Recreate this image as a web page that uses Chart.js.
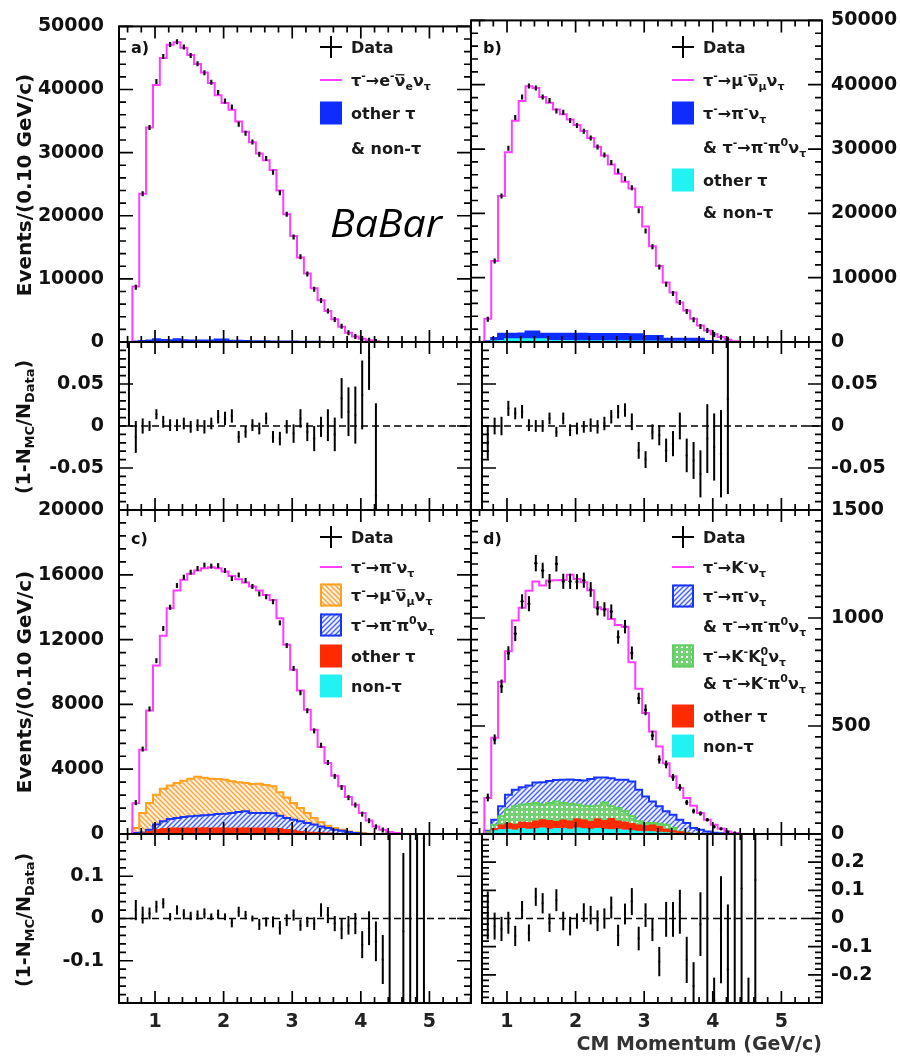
<!DOCTYPE html>
<html>
<head>
<meta charset="utf-8">
<script src="https://cdn.jsdelivr.net/npm/chart.js@4.4.1/dist/chart.umd.min.js"></script>
<style>
  body { margin: 0; background: #fff; }
  #page { position: relative; width: 900px; height: 1059px; overflow: hidden; }
  #page canvas { position: absolute; left: 0; top: 0; width: 900px; height: 1059px; }
</style>
</head>
<body>
<div id="page">
  <canvas id="mainA" width="900" height="1059"></canvas>
  <canvas id="ratioA" width="900" height="1059"></canvas>
  <canvas id="mainB" width="900" height="1059"></canvas>
  <canvas id="ratioB" width="900" height="1059"></canvas>
  <canvas id="mainC" width="900" height="1059"></canvas>
  <canvas id="ratioC" width="900" height="1059"></canvas>
  <canvas id="mainD" width="900" height="1059"></canvas>
  <canvas id="ratioD" width="900" height="1059"></canvas>
</div>
<script>
// bins of 0.1 GeV/c, bin 0 starts at 0.57
const BIN_LO = 0.57, BIN_W = 0.1;

// ---- tick labels
const xTicks = [1, 2, 3, 4, 5];
const yTicksAB = [0, 10000, 20000, 30000, 40000, 50000];
const yLabelsAB = ['0', '10000', '20000', '30000', '40000', '50000'];
const yTicksRatioAB = [-0.1, -0.05, 0, 0.05, 0.1];
const yLabelsRatioAB = ['', '-0.05', '0', '0.05', ''];
const yTicksC = [0, 4000, 8000, 12000, 16000, 20000];
const yLabelsC = ['0', '4000', '8000', '12000', '16000', '20000'];
const yTicksD = [0, 500, 1000, 1500];
const yLabelsD = ['0', '500', '1000', '1500'];
const yTicksRatioC = [-0.2, -0.1, 0, 0.1, 0.2];
const yLabelsRatioC = ['', '-0.1', '0', '0.1', ''];
const yTicksRatioD = [-0.3, -0.2, -0.1, 0, 0.1, 0.2, 0.3];
const yLabelsRatioD = ['', '-0.2', '-0.1', '0', '0.1', '0.2', ''];

// ---- a) tau -> e nu nu
const mcA = [0, 8780, 23500, 34000, 40700, 45000, 47100, 47500, 46600, 45450, 44050, 42700, 41050, 39100, 37850, 36800, 34950, 33300, 31650, 29850, 28800, 27250, 24000, 20250, 16800, 13400, 10850, 8500, 6600, 4900, 3600, 2400, 1450, 880, 520, 260, 100];
const dataA = [null, 8667, 23500, 34000, 41280, 45226, 47150, 47550, 46740, 45400, 44090, 42660, 41170, 39535, 38200, 37250, 34500, 33070, 31680, 29760, 29060, 26900, 23650, 20230, 16650, 13520, 10770, 8370, 6590, 4905, 3565, 2480, 1475, 890, 540, 283, 92];
const bkgA = [0, 80, 150, 250, 420, 300, 280, 420, 280, 250, 250, 240, 250, 400, 380, 200, 180, 150, 130, 120, 100, 90, 80, 70, 60, 50, 40, 30, 20, 15, 10, 8, 5, 3, 2, 1, 0];
const ratioA = [0.05, -0.013, 0, 0, 0.014, 0.005, 0.001, 0.001, 0.003, -0.001, 0.001, -0.001, 0.003, 0.011, 0.009, 0.012, -0.013, -0.007, 0.001, -0.003, 0.009, -0.013, -0.015, -0.001, -0.009, 0.009, -0.007, -0.015, -0.001, 0.001, -0.010, 0.033, 0.017, 0.013, 0.037, 0.081, -0.083];
const ratioErrA = [0.05, 0.019, 0.009, 0.006, 0.006, 0.007, 0.007, 0.007, 0.007, 0.007, 0.007, 0.008, 0.007, 0.008, 0.008, 0.008, 0.007, 0.007, 0.007, 0.007, 0.007, 0.007, 0.008, 0.008, 0.011, 0.011, 0.011, 0.015, 0.012, 0.019, 0.020, 0.024, 0.029, 0.034, 0.041, 0.038, 0.11];

// ---- b) tau -> mu nu nu
const mcB = [0, 3600, 12600, 22700, 29500, 34400, 37450, 39750, 39500, 38100, 37200, 36150, 35400, 34600, 33750, 32800, 31700, 30350, 29000, 27600, 26150, 24900, 23850, 21000, 17950, 14900, 11800, 9250, 7700, 6150, 4900, 3600, 2550, 1800, 1200, 770, 400, 100];
const dataB = [null, 3533, 12600, 22700, 30130, 34920, 38100, 39790, 39500, 38100, 37540, 35900, 35720, 34430, 33650, 32770, 31730, 30320, 29090, 27900, 26600, 25380, 23970, 20410, 17260, 14800, 11670, 8990, 7540, 6150, 4730, 3460, 2410, 1770, 1170, 745, 413, null];
const pionB = [0, 100, 615, 1280, 1300, 1300, 1320, 1640, 1640, 1300, 1300, 1290, 1280, 1280, 1280, 1270, 1260, 1260, 1250, 1250, 1240, 1230, 1220, 1200, 920, 920, 920, 510, 510, 510, 510, 510, 510, 150, 100, 50, 20, 0];
const otherB = [0, 30, 100, 150, 410, 410, 410, 410, 410, 410, 150, 150, 140, 140, 130, 130, 120, 120, 110, 110, 100, 100, 90, 80, 70, 60, 50, 40, 30, 25, 20, 15, 10, 5, 0, 0, 0, 0];
const ratioB = [null, -0.019, 0, 0, 0.021, 0.015, 0.017, 0.001, 0, 0, 0.009, -0.007, 0.009, -0.005, -0.003, -0.001, 0.001, -0.001, 0.003, 0.011, 0.017, 0.019, 0.005, -0.029, -0.04, -0.007, -0.011, -0.029, -0.021, 0, -0.035, -0.041, -0.057, -0.015, -0.025, -0.033, 0.032];
const ratioErrB = [null, 0.02, 0.01, 0.011, 0.009, 0.007, 0.008, 0.007, 0.007, 0.007, 0.007, 0.006, 0.007, 0.007, 0.007, 0.007, 0.008, 0.008, 0.008, 0.008, 0.008, 0.008, 0.01, 0.01, 0.01, 0.009, 0.012, 0.014, 0.015, 0.016, 0.02, 0.022, 0.028, 0.041, 0.04, 0.052, 0.113];

// ---- c) tau -> pi nu  (stack outlines are cumulative)
const mcC = [0, 1900, 5200, 7630, 10400, 12230, 13940, 15030, 15690, 16060, 16260, 16400, 16470, 16400, 16200, 15930, 15730, 15520, 15280, 15030, 14760, 14450, 13320, 11680, 10140, 8860, 7670, 6440, 5370, 4380, 3600, 2940, 2280, 1810, 1300, 840, 470, 270, 120, 60];
const dataC = [null, 1939, 5242, 7723, 10700, 12687, 13996, 15337, 15848, 16157, 16391, 16599, 16536, 16566, 16265, 15772, 15986, 15645, 15280, 14822, 14643, 14335, 13033, 11633, 10222, 8720, 7609, 6364, 5480, 4415, 3557, 2871, 2244, 1789, 1224, 821, 446, 246, null, null];
const muStackC = [0, 370, 1300, 1910, 2430, 2800, 3000, 3150, 3290, 3410, 3540, 3470, 3410, 3390, 3350, 3250, 3190, 3150, 3080, 3100, 3020, 2940, 2570, 2260, 1910, 1600, 1300, 990, 720, 510, 370, 270, 160, 100, 60, 20, 0, 0, 0, 0];
const pipi0StackC = [0, 60, 100, 270, 580, 780, 930, 990, 1050, 1090, 1130, 1150, 1190, 1230, 1250, 1300, 1360, 1400, 1300, 1300, 1300, 1280, 1130, 990, 880, 780, 680, 580, 470, 370, 270, 200, 120, 60, 20, 0, 0, 0, 0, 0];
const otherStackC = [0, 20, 60, 160, 270, 330, 370, 370, 375, 365, 370, 380, 370, 375, 370, 365, 370, 375, 370, 365, 370, 360, 330, 270, 230, 160, 120, 100, 80, 60, 40, 20, 0, 0, 0, 0, 0, 0, 0, 0];
const nonTauC = [0, 0, 10, 15, 15, 15, 15, 15, 15, 15, 15, 15, 15, 15, 15, 15, 15, 15, 15, 15, 15, 15, 15, 10, 10, 10, 10, 5, 5, 5, 0, 0, 0, 0, 0, 0, 0, 0, 0, 0];
const ratioC = [null, 0.02, 0.008, 0.012, 0.028, 0.036, 0.004, 0.02, 0.01, 0.006, 0.008, 0.012, 0.004, 0.01, 0.004, -0.01, 0.016, 0.008, 0, -0.014, -0.008, -0.008, -0.022, -0.004, 0.008, -0.016, -0.008, -0.012, 0.02, 0.008, -0.012, -0.024, -0.016, -0.012, -0.062, -0.023, -0.054, -0.097, 0, null, -0.03, 0, 0, 0.19];
const ratioErrC = [null, 0.024, 0.02, 0.014, 0.014, 0.012, 0.009, 0.011, 0.012, 0.01, 0.011, 0.012, 0.008, 0.011, 0.008, 0.011, 0.012, 0.01, 0.007, 0.013, 0.011, 0.013, 0.016, 0.014, 0.013, 0.013, 0.012, 0.015, 0.016, 0.019, 0.018, 0.025, 0.022, 0.025, 0.032, 0.04, 0.047, 0.058, 0.5, null, 0.185, 0.5, 0.5, 0.5];

// ---- d) tau -> K nu  (stack outlines are cumulative)
const mcD = [0, 167, 446, 705, 846, 988, 1048, 1126, 1169, 1150, 1174, 1175, 1176, 1200, 1180, 1165, 1128, 1050, 1040, 995, 968, 960, 795, 672, 560, 475, 405, 328, 267, 213, 167, 131, 97, 66, 43, 25, 12, 5];
const dataD = [null, 169, 438, 684, 837, 928, 1077, 1066, 1254, 1220, 1169, 1251, 1170, 1170, 1168, 1175, 1132, 1045, 1040, 1030, 912, 960, 838, 628, 575, 456, 345, 322, 262, 216, 146, 106, 95, 66, 33, 24, 10, 5];
const dataErrD = [null, 18, 23, 31, 32, 35, 33, 35, 38, 36, 35, 36, 35, 35, 35, 35, 34, 33, 33, 33, 31, 31, 30, 26, 25, 22, 19, 18, 16, 15, 12, 11, 10, 8, 6, 5, 3, 2];
const pipi0StackD = [0, 15, 66, 128, 182, 205, 217, 225, 239, 240, 245, 250, 251, 252, 250, 248, 255, 262, 262, 258, 251, 251, 243, 205, 174, 151, 128, 105, 89, 66, 51, 28, 20, 12, 6, 3, 0, 0];
const kk0StackD = [0, 10, 43, 82, 113, 128, 136, 140, 143, 136, 143, 151, 143, 140, 136, 131, 128, 131, 146, 128, 120, 105, 82, 59, 51, 51, 48, 43, 28, 12, 5, 0, 0, 0, 0, 0, 0, 0];
const otherStackD = [0, 8, 25, 42, 50, 45, 55, 52, 60, 66, 62, 58, 65, 60, 70, 65, 58, 70, 62, 72, 60, 55, 48, 42, 38, 42, 35, 22, 15, 10, 5, 0, 0, 0, 0, 0, 0, 0];
const nonTauD = [0, 5, 15, 20, 22, 18, 25, 22, 24, 28, 22, 25, 26, 22, 28, 24, 22, 26, 22, 20, 22, 18, 15, 12, 12, 10, 8, 6, 4, 2, 0, 0, 0, 0, 0, 0, 0, 0];
const ratioD = [null, 0.011, -0.027, -0.037, -0.015, -0.062, 0.03, -0.051, 0.077, 0.054, -0.015, 0.065, -0.009, -0.027, -0.009, 0.021, 0.012, -0.008, 0, 0.039, -0.06, 0.016, 0.06, -0.071, 0.012, -0.04, -0.153, -0.003, -0.003, 0.024, -0.147, -0.24, -0.02, 0, -0.29, -0.04, -0.18, 0, 0.107, -0.32, 0.137];
const ratioErrD = [null, 0.085, 0.048, 0.043, 0.039, 0.036, 0.032, 0.03, 0.032, 0.036, 0.033, 0.039, 0.033, 0.033, 0.027, 0.033, 0.033, 0.037, 0.036, 0.039, 0.038, 0.037, 0.048, 0.042, 0.042, 0.04, 0.052, 0.062, 0.062, 0.078, 0.082, 0.085, 0.113, 0.5, 0.08, 0.19, 0.23, 0.5, 0.5, 0.11, 0.5];

// ---- colours / fonts
const MAGENTA = '#ff3cff', BLUE = '#0f2cff', CYAN = '#22f2f2', RED = '#ff2a00';
const ORANGE = '#ffa01e', HBLUE = '#1834ff', GREEN = '#5ccf5c';
const TICK_FONT = { family: '"DejaVu Sans", sans-serif', size: 19, weight: 'bold' };
const TXT_FAMILY = '"DejaVu Sans", sans-serif';

const edge = i => BIN_LO + i * BIN_W;
const centre = i => BIN_LO + (i + 0.5) * BIN_W;

// stepped outline through bin low edges, closed down to zero at both ends
function histPoints(vals) {
  const pts = [{ x: edge(0), y: 0 }];
  vals.forEach((v, i) => pts.push({ x: edge(i), y: v }));
  pts.push({ x: edge(vals.length), y: 0 });
  return pts;
}
function pointsAt(vals, errs) {
  const pts = [];
  vals.forEach((v, i) => {
    if (v === null) return;
    pts.push({ x: centre(i), y: v, e: errs ? errs[i] : 0 });
  });
  return pts;
}

function hist(vals, line, fill, width) {
  return {
    data: histPoints(vals), stepped: true, tension: 0,
    borderColor: line, borderWidth: width || 2,
    backgroundColor: fill || 'rgba(0,0,0,0)', fill: fill ? 'origin' : false,
    pointRadius: 0
  };
}
function dataTicks(vals) {
  return {
    data: pointsAt(vals), showLine: false,
    pointStyle: 'line', pointRotation: 90, pointRadius: 2.5,
    pointBorderWidth: 2.2, pointBorderColor: '#111', borderColor: '#111'
  };
}
function dataWithErrors(vals, errs, radius, colour) {
  return {
    data: pointsAt(vals, errs), showLine: false, errorBars: true, clip: 0,
    pointStyle: 'circle', pointRadius: radius, pointBorderWidth: 0,
    pointBackgroundColor: colour, borderColor: colour
  };
}

// hatch fills
function hatch(ctx, lineCol, bgCol, kind) {
  const s = 5;
  const c = document.createElement('canvas');
  c.width = c.height = s;
  const g = c.getContext('2d');
  g.fillStyle = bgCol; g.fillRect(0, 0, s, s);
  if (kind === 'dots') {
    g.fillStyle = lineCol;
    g.fillRect(0, 0, s, s);
    g.fillStyle = '#ffffff';
    g.fillRect(1, 1, 2, 2);
    return ctx.createPattern(c, 'repeat');
  }
  g.strokeStyle = lineCol; g.lineWidth = 1.4;
  g.beginPath();
  if (kind === '/') {
    g.moveTo(-1, s + 1); g.lineTo(s + 1, -1);
    g.moveTo(-1, 1); g.lineTo(1, -1);
    g.moveTo(s - 1, s + 1); g.lineTo(s + 1, s - 1);
  } else {
    g.moveTo(-1, -1); g.lineTo(s + 1, s + 1);
    g.moveTo(s - 1, -1); g.lineTo(s + 1, 1);
    g.moveTo(-1, s - 1); g.lineTo(1, s + 1);
  }
  g.stroke();
  return ctx.createPattern(c, 'repeat');
}
const orangeFill = ctx => hatch(ctx, '#ffa43c', '#fff1de', '\\');
const blueFill = ctx => hatch(ctx, '#4662ff', '#eef1ff', '/');
const greenFill = ctx => hatch(ctx, '#74d274', '#ffffff', 'dots');

// frame with inward ticks on all four sides, dashed zero line for the ratio plots
function marks(lo, hi, major, minor) {
  const out = [];
  const n0 = Math.ceil(lo / minor - 1e-6), n1 = Math.floor(hi / minor + 1e-6);
  for (let n = n0; n <= n1; n++) {
    const v = n * minor, r = v / major;
    out.push([v, Math.abs(r - Math.round(r)) < 1e-6]);
  }
  return out;
}
const rootFrame = {
  id: 'rootFrame',
  beforeDatasetsDraw(chart, args, o) {
    if (!o.zeroLine) return;
    const { ctx, chartArea: a, scales: { y } } = chart;
    const py = y.getPixelForValue(0);
    ctx.save();
    ctx.strokeStyle = '#000'; ctx.lineWidth = 1.6; ctx.setLineDash([7, 4]);
    ctx.beginPath(); ctx.moveTo(a.left, py); ctx.lineTo(a.right, py); ctx.stroke();
    ctx.restore();
  },
  afterDatasetsDraw(chart, args, o) {
    const { ctx, chartArea: a, scales: { x, y } } = chart;
    ctx.save();
    ctx.strokeStyle = '#000';
    ctx.lineWidth = 1.7;
    ctx.beginPath();
    marks(x.min, x.max, o.xMajor, o.xMinor).forEach(([v, major]) => {
      const px = x.getPixelForValue(v), len = major ? 12 : 6;
      ctx.moveTo(px, a.bottom); ctx.lineTo(px, a.bottom - len);
      ctx.moveTo(px, a.top); ctx.lineTo(px, a.top + len);
    });
    marks(y.min, y.max, o.yMajor, o.yMinor).forEach(([v, major]) => {
      const py = y.getPixelForValue(v), len = major ? 14 : 7;
      ctx.moveTo(a.left, py); ctx.lineTo(a.left + len, py);
      ctx.moveTo(a.right, py); ctx.lineTo(a.right - len, py);
    });
    ctx.stroke();
    ctx.lineWidth = 2;
    ctx.strokeRect(a.left, a.top, a.right - a.left, a.bottom - a.top);
    ctx.restore();
  }
};
const errorBars = {
  id: 'errorBars',
  afterDatasetsDraw(chart) {
    const { ctx, chartArea: a, scales: { y } } = chart;
    ctx.save();
    ctx.beginPath(); ctx.rect(a.left, a.top, a.right - a.left, a.bottom - a.top); ctx.clip();
    ctx.strokeStyle = '#000'; ctx.lineWidth = 2;
    chart.data.datasets.forEach((ds, di) => {
      if (!ds.errorBars) return;
      chart.getDatasetMeta(di).data.forEach((pt, k) => {
        const d = ds.data[k];
        ctx.beginPath();
        ctx.moveTo(pt.x, y.getPixelForValue(d.y - d.e));
        ctx.lineTo(pt.x, y.getPixelForValue(d.y + d.e));
        ctx.stroke();
      });
    });
    ctx.restore();
  }
};

// text with ^{sup} _{sub} ~{overlined} *{bold} %{sub,sup}
function richText(ctx, str, x, y, size, weight, draw) {
  weight = weight || 'normal';
  const re = /([\^_~*%])\{([^}]*)\}|([^\^_~*%]+)/g;
  const small = Math.round(size * 0.68);
  const font = (s, w) => { ctx.font = `${w} ${s}px ${TXT_FAMILY}`; };
  const put = (t, px, py) => { if (draw !== false) ctx.fillText(t, px, py); };
  ctx.textBaseline = 'alphabetic'; ctx.textAlign = 'left';
  let m, cx = x;
  while ((m = re.exec(str)) !== null) {
    if (m[3] !== undefined) {
      font(size, weight); put(m[3], cx, y); cx += ctx.measureText(m[3]).width; continue;
    }
    const t = m[2];
    if (m[1] === '^') { font(small, weight); put(t, cx, y - size * 0.42); cx += ctx.measureText(t).width; }
    else if (m[1] === '_') { font(small, weight); put(t, cx, y + size * 0.22); cx += ctx.measureText(t).width; }
    else if (m[1] === '*') { font(size, 'bold'); put(t, cx, y); cx += ctx.measureText(t).width; }
    else if (m[1] === '~') {
      font(size, weight); const w = ctx.measureText(t).width; put(t, cx, y);
      if (draw !== false) ctx.fillRect(cx + w * 0.1, y - size * 0.74, w * 0.8, Math.max(1.2, size * 0.08));
      cx += w;
    } else {
      const [lo, hi] = t.split(','); font(small, weight);
      put(lo, cx, y + size * 0.22); put(hi, cx, y - size * 0.42);
      cx += Math.max(ctx.measureText(lo).width, ctx.measureText(hi).width);
    }
  }
  return cx - x;
}
function vTitle(ctx, str, cx, cy, size) {
  ctx.save();
  ctx.fillStyle = '#111';
  ctx.translate(cx, cy);
  ctx.rotate(-Math.PI / 2);
  const w = richText(ctx, str, 0, 0, size, 'bold', false);
  richText(ctx, str, -w / 2, 0, size, 'bold');
  ctx.restore();
}
function legend(ctx, x0, tx, rows) {
  rows.forEach(r => {
    ctx.save();
    if (r.icon === 'data') {
      ctx.strokeStyle = '#000'; ctx.lineWidth = 2;
      ctx.beginPath();
      ctx.moveTo(x0, r.y); ctx.lineTo(x0 + 22, r.y);
      ctx.moveTo(x0 + 11, r.y - 11); ctx.lineTo(x0 + 11, r.y + 11);
      ctx.stroke();
    } else if (r.icon === 'line') {
      ctx.strokeStyle = MAGENTA; ctx.lineWidth = 2;
      ctx.beginPath(); ctx.moveTo(x0, r.y); ctx.lineTo(x0 + 22, r.y); ctx.stroke();
    } else if (r.icon === 'box') {
      ctx.fillStyle = r.fill; ctx.fillRect(x0, r.y - 11.5, 22, 23);
      if (r.edge) { ctx.strokeStyle = r.edge; ctx.lineWidth = 2; ctx.strokeRect(x0 + 1, r.y - 10.5, 20, 21); }
    }
    ctx.fillStyle = '#1a1a1a';
    richText(ctx, r.text, tx, r.y + 6, 16, 'bold');
    ctx.restore();
  });
}
function panelLabel(ctx, t, x, y) {
  ctx.save(); ctx.fillStyle = '#111'; richText(ctx, t, x, y, 16, 'bold'); ctx.restore();
}

function panel(id, o) {
  const cv = document.getElementById(id);
  const ctx = cv.getContext('2d');
  const [l, t, r, b] = o.frame;
  const leftSide = o.side === 'left';
  const AX = leftSide ? 112 : 78, XH = 40;
  const pad = {
    left: leftSide ? l - AX : l,
    right: leftSide ? 900 - r : 900 - r - AX,
    top: t,
    bottom: o.xLabels ? 1059 - b - XH : 1059 - b
  };
  return new Chart(cv, {
    type: 'line',
    data: { datasets: o.datasets(ctx) },
    options: {
      responsive: false, animation: false, events: [], devicePixelRatio: 1,
      layout: { autoPadding: false, padding: pad },
      plugins: {
        legend: { display: false }, tooltip: { enabled: false },
        rootFrame: { xMajor: 1, xMinor: 0.2, yMajor: o.yMajor, yMinor: o.yMinor, zeroLine: !!o.zeroLine }
      },
      scales: {
        x: {
          type: 'linear', min: o.x[0], max: o.x[1], display: !!o.xLabels,
          grid: { display: false, drawTicks: false }, border: { display: false },
          afterBuildTicks: s => { s.ticks = xTicks.map(v => ({ value: v })); },
          afterFit: s => { s.height = o.xLabels ? XH : 0; },
          ticks: { autoSkip: false, maxRotation: 0, padding: 8, color: '#222', font: TICK_FONT, callback: v => String(v) }
        },
        y: {
          type: 'linear', min: o.y[0], max: o.y[1], position: o.side,
          grid: { display: false, drawTicks: false }, border: { display: false },
          afterBuildTicks: s => { s.ticks = o.yTicks.map(v => ({ value: v })); },
          afterFit: s => { s.width = AX; },
          ticks: { autoSkip: false, padding: leftSide ? 15 : 9, color: '#111', font: TICK_FONT, callback: (v, i) => o.yLabels[i] }
        }
      }
    },
    plugins: [rootFrame, errorBars, { id: 'panelText', afterDraw: c => { if (o.text) o.text(c.ctx); } }]
  });
}

const X_LEFT = [0.475, 5.606], X_RIGHT = [0.475, 5.592], X_RIGHT_RATIO = [0.636, 5.592];

panel('mainA', {
  frame: [119, 19, 471, 342], side: 'left', x: X_LEFT, y: [0, 50000],
  yTicks: yTicksAB, yLabels: yLabelsAB, yMajor: 10000, yMinor: 2000,
  datasets: () => [dataTicks(dataA), hist(mcA, MAGENTA), hist(bkgA, BLUE, BLUE)],
  text: ctx => {
    panelLabel(ctx, 'a)', 131, 53);
    legend(ctx, 320, 351, [
      { icon: 'data', y: 47, text: 'Data' },
      { icon: 'line', y: 80, text: 'τ^{-}→e^{-}~{ν}_{e}ν_{τ}' },
      { icon: 'box', y: 113, fill: BLUE, text: 'other τ' },
      { y: 148, text: '& non-τ' }
    ]);
    ctx.save();
    ctx.fillStyle = '#000';
    ctx.font = 'italic 38px "Open Sans", sans-serif';
    ctx.textBaseline = 'alphabetic';
    ctx.translate(330, 237); ctx.scale(1.08, 1);
    ctx.fillText('BaBar', 0, 0);
    ctx.restore();
    vTitle(ctx, 'Events/(0.10 GeV/c)', 31, 185, 20);
  }
});

panel('ratioA', {
  frame: [119, 342, 471, 510], side: 'left', x: X_LEFT, y: [-0.1, 0.1], zeroLine: true,
  yTicks: yTicksRatioAB, yLabels: yLabelsRatioAB, yMajor: 0.05, yMinor: 0.01,
  datasets: () => [dataWithErrors(ratioA, ratioErrA, 1.3, '#888')],
  text: ctx => vTitle(ctx, '(1-N_{MC}/N_{Data})', 30, 427, 19)
});

panel('mainB', {
  frame: [471, 19, 822, 342], side: 'right', x: X_RIGHT, y: [0, 50000],
  yTicks: yTicksAB, yLabels: yLabelsAB, yMajor: 10000, yMinor: 2000,
  datasets: () => [dataTicks(dataB), hist(mcB, MAGENTA), hist(otherB, CYAN, CYAN), hist(pionB, BLUE, BLUE)],
  text: ctx => {
    panelLabel(ctx, 'b)', 483, 53);
    legend(ctx, 672, 703, [
      { icon: 'data', y: 47, text: 'Data' },
      { icon: 'line', y: 80, text: 'τ^{-}→μ^{-}~{ν}_{μ}ν_{τ}' },
      { icon: 'box', y: 113, fill: BLUE, text: 'τ^{-}→π^{-}ν_{τ}' },
      { y: 147, text: '& τ^{-}→π^{-}π^{0}ν_{τ}' },
      { icon: 'box', y: 180, fill: CYAN, text: 'other τ' },
      { y: 212, text: '& non-τ' }
    ]);
  }
});

panel('ratioB', {
  frame: [482, 342, 822, 510], side: 'right', x: X_RIGHT_RATIO, y: [-0.1, 0.1], zeroLine: true,
  yTicks: yTicksRatioAB, yLabels: yLabelsRatioAB, yMajor: 0.05, yMinor: 0.01,
  datasets: () => [dataWithErrors(ratioB, ratioErrB, 1.3, '#888')]
});

panel('mainC', {
  frame: [119, 510, 471, 834], side: 'left', x: X_LEFT, y: [0, 20000],
  yTicks: yTicksC, yLabels: yLabelsC, yMajor: 4000, yMinor: 800,
  datasets: ctx => [
    dataTicks(dataC),
    hist(mcC, MAGENTA),
    hist(nonTauC, CYAN, CYAN, 1),
    hist(otherStackC, RED, RED, 1),
    hist(pipi0StackC, HBLUE, blueFill(ctx)),
    hist(muStackC, ORANGE, orangeFill(ctx))
  ],
  text: ctx => {
    panelLabel(ctx, 'c)', 131, 544);
    legend(ctx, 320, 351, [
      { icon: 'data', y: 537, text: 'Data' },
      { icon: 'line', y: 567, text: 'τ^{-}→π^{-}ν_{τ}' },
      { icon: 'box', y: 595, fill: orangeFill(ctx), edge: ORANGE, text: 'τ^{-}→μ^{-}~{ν}_{μ}ν_{τ}' },
      { icon: 'box', y: 625, fill: blueFill(ctx), edge: HBLUE, text: 'τ^{-}→π^{-}π^{0}ν_{τ}' },
      { icon: 'box', y: 656, fill: RED, text: 'other τ' },
      { icon: 'box', y: 686, fill: CYAN, text: 'non-τ' }
    ]);
    vTitle(ctx, 'Events/(0.10 GeV/c)', 31, 682, 20);
  }
});

panel('ratioC', {
  frame: [119, 834, 471, 1003], side: 'left', x: X_LEFT, y: [-0.2, 0.2], zeroLine: true, xLabels: true,
  yTicks: yTicksRatioC, yLabels: yLabelsRatioC, yMajor: 0.1, yMinor: 0.02,
  datasets: () => [dataWithErrors(ratioC, ratioErrC, 1.3, '#888')],
  text: ctx => vTitle(ctx, '(1-N_{MC}/N_{Data})', 30, 920, 19)
});

panel('mainD', {
  frame: [471, 510, 822, 834], side: 'right', x: X_RIGHT, y: [0, 1500],
  yTicks: yTicksD, yLabels: yLabelsD, yMajor: 500, yMinor: 50,
  datasets: ctx => [
    dataWithErrors(dataD, dataErrD, 1.6, '#000'),
    hist(mcD, MAGENTA),
    hist(nonTauD, CYAN, CYAN, 1),
    hist(otherStackD, RED, RED, 1),
    hist(kk0StackD, GREEN, greenFill(ctx)),
    hist(pipi0StackD, HBLUE, blueFill(ctx))
  ],
  text: ctx => {
    panelLabel(ctx, 'd)', 483, 544);
    legend(ctx, 672, 703, [
      { icon: 'data', y: 537, text: 'Data' },
      { icon: 'line', y: 567, text: 'τ^{-}→*{K}^{-}ν_{τ}' },
      { icon: 'box', y: 596, fill: blueFill(ctx), edge: HBLUE, text: 'τ^{-}→π^{-}ν_{τ}' },
      { y: 626, text: '& τ^{-}→π^{-}π^{0}ν_{τ}' },
      { icon: 'box', y: 656, fill: greenFill(ctx), edge: GREEN, text: 'τ^{-}→*{K}^{-}*{K}%{L,0}ν_{τ}' },
      { y: 683, text: '& τ^{-}→*{K}^{-}π^{0}ν_{τ}' },
      { icon: 'box', y: 716, fill: RED, text: 'other τ' },
      { icon: 'box', y: 746, fill: CYAN, text: 'non-τ' }
    ]);
  }
});

panel('ratioD', {
  frame: [482, 834, 822, 1003], side: 'right', x: X_RIGHT_RATIO, y: [-0.3, 0.3], zeroLine: true, xLabels: true,
  yTicks: yTicksRatioD, yLabels: yLabelsRatioD, yMajor: 0.1, yMinor: 0.02,
  datasets: () => [dataWithErrors(ratioD, ratioErrD, 1.3, '#888')],
  text: ctx => {
    ctx.save();
    ctx.fillStyle = '#333';
    ctx.font = 'bold 19px "DejaVu Sans", sans-serif';
    ctx.textAlign = 'right'; ctx.textBaseline = 'alphabetic';
    ctx.fillText('CM Momentum (GeV/c)', 822, 1050);
    ctx.restore();
  }
});
</script>
</body>
</html>
